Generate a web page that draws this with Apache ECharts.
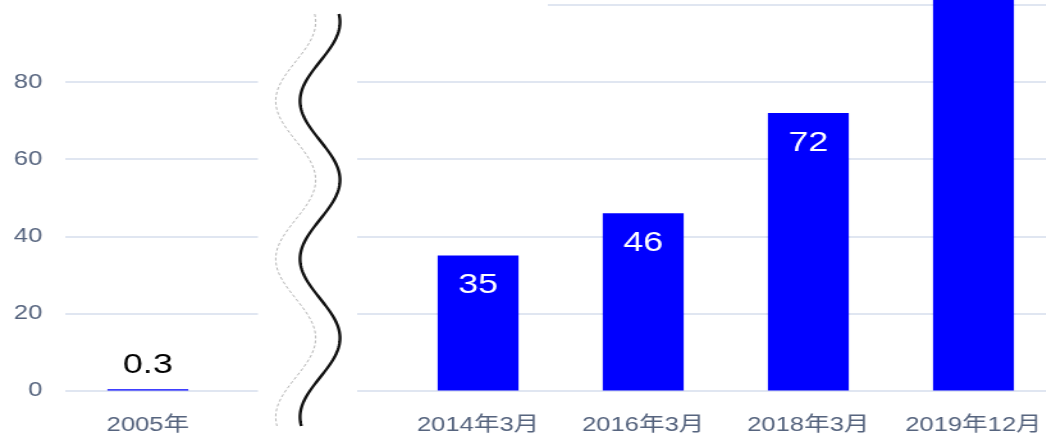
<!DOCTYPE html>
<html>
<head>
<meta charset="utf-8">
<script src="https://cdn.jsdelivr.net/npm/echarts@6/dist/echarts.min.js"></script>
<style>
html, body { margin: 0; padding: 0; background: #fff; overflow: hidden; }
/* the reference is stretched sideways, so draw narrower and widen */
#chart { width: 825px; height: 437px; transform: scaleX(1.28); transform-origin: 0 0; }
</style>
</head>
<body>
<div id="chart"></div>
<script>
// --- 数据 ---
const categories = ['2005年', '', '2014年3月', '2016年3月', '2018年3月', '2019年12月'];
const values = [0.3, '-', 35, 46, 72, 120];
const yMin = 0;
const yMax = 100;
const yStep = 20;
const yLabelLimit = 80; // 100 的刻度被遮住了

const FONT = '"Liberation Sans", "Noto Sans CJK SC", sans-serif';
const AXIS_COLOR = '#56647e';

// 断轴的波浪线
function wavePoints(xc, amp, yFrom, yTo) {
  const pts = [];
  for (let y = yFrom; y <= yTo; y += 2) {
    pts.push([xc + amp * Math.cos(2 * Math.PI * (y - 180) / 158), y]);
  }
  return pts;
}

const barData = values.map((v, i) => {
  if (i === 0) {
    return { value: v, label: { position: 'top', color: '#000', distance: 10 } };
  }
  return v;
});

const chart = echarts.init(document.getElementById('chart'));

chart.setOption({
  animation: false,
  grid: {
    left: 51,
    right: 0,
    top: 5,
    bottom: 46.5,
    containLabel: false
  },
  xAxis: {
    type: 'category',
    data: categories,
    axisLine: { show: false },
    axisTick: { show: false },
    axisLabel: {
      color: AXIS_COLOR,
      fontSize: 20,
      fontFamily: FONT,
      margin: 25,
      interval: 0
    }
  },
  yAxis: {
    type: 'value',
    min: yMin,
    max: yMax,
    interval: yStep,
    axisLine: { show: false },
    axisTick: { show: false },
    axisLabel: {
      color: AXIS_COLOR,
      fontSize: 20,
      fontFamily: FONT,
      margin: 18,
      formatter: v => (v > yLabelLimit ? '' : v)
    },
    splitLine: { lineStyle: { color: '#e0e6f1', width: 2 } }
  },
  series: [
    {
      type: 'bar',
      data: barData,
      barWidth: '49%',
      clip: false, // 最后一根柱子超出画面
      itemStyle: { color: '#0000ff' },
      label: {
        show: true,
        position: 'insideTop',
        distance: 16,
        color: '#fff',
        fontSize: 28,
        fontFamily: FONT
      }
    }
  ],
  graphic: [
    // 顶部被遮住的一段网格线
    {
      type: 'rect',
      z: 100,
      shape: { x: 0, y: 0, width: 428, height: 11 },
      style: { fill: '#fff' }
    },
    // 断轴处的白色区域
    {
      type: 'rect',
      z: 100,
      shape: { x: 201.5, y: 0, width: 77.5, height: 394 },
      style: { fill: '#fff' }
    },
    {
      type: 'polyline',
      z: 101,
      shape: { points: wavePoints(231, 15.6, 14, 427) },
      style: { stroke: '#b8b8b8', lineWidth: 1, lineDash: [3, 2], fill: null }
    },
    {
      type: 'polyline',
      z: 101,
      shape: { points: wavePoints(250, 15.6, 14, 427) },
      style: { stroke: '#111', lineWidth: 2.4, fill: null }
    }
  ]
});
</script>
</body>
</html>
